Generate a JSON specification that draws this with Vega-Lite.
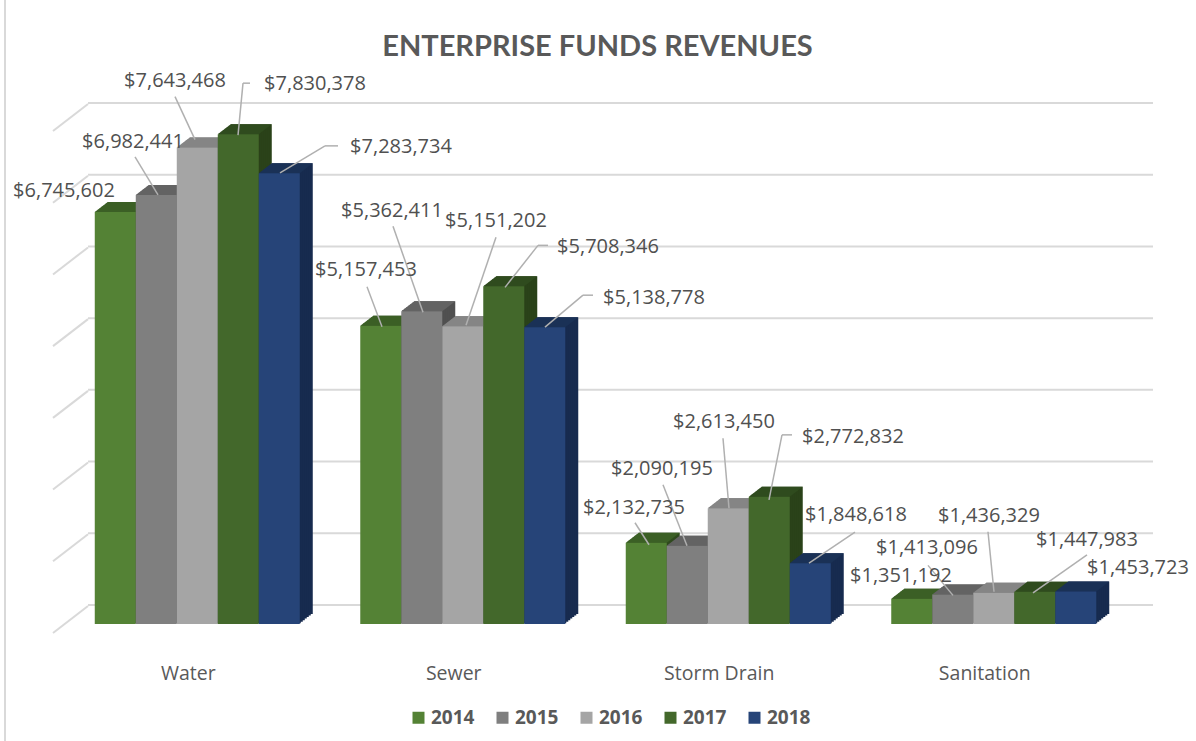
{"$schema":"https://vega.github.io/schema/vega-lite/v6.json","width":1065,"height":502,"autosize":{"type":"none"},"padding":{"left":88,"top":122,"right":43,"bottom":117},"background":"white",
"title":{"text":"ENTERPRISE FUNDS REVENUES","anchor":"middle","dx":-23,"offset":-63,"font":"Lato","fontSize":29,"fontWeight":"bold","color":"#595959"},
"config":{"view":{"stroke":null},"text":{"font":"Open Sans","fontSize":20,"color":"#505050","align":"center","baseline":"middle"},"rule":{"stroke":"#b0b0b0","strokeWidth":1.5}},
"data":{"values":[
{"category":"Water","year":2014,"value":6745602},{"category":"Water","year":2015,"value":6982441},{"category":"Water","year":2016,"value":7643468},{"category":"Water","year":2017,"value":7830378},{"category":"Water","year":2018,"value":7283734},
{"category":"Sewer","year":2014,"value":5157453},{"category":"Sewer","year":2015,"value":5362411},{"category":"Sewer","year":2016,"value":5151202},{"category":"Sewer","year":2017,"value":5708346},{"category":"Sewer","year":2018,"value":5138778},
{"category":"Storm Drain","year":2014,"value":2132735},{"category":"Storm Drain","year":2015,"value":2090195},{"category":"Storm Drain","year":2016,"value":2613450},{"category":"Storm Drain","year":2017,"value":2772832},{"category":"Storm Drain","year":2018,"value":1848618},
{"category":"Sanitation","year":2014,"value":1351192},{"category":"Sanitation","year":2015,"value":1413096},{"category":"Sanitation","year":2016,"value":1436329},{"category":"Sanitation","year":2017,"value":1447983},{"category":"Sanitation","year":2018,"value":1453723}]},
"resolve":{"scale":{"color":"independent","xOffset":"independent"}},
"encoding":{"x":{"field":"category","type":"nominal"},"y":{"field":"value","type":"quantitative"}},
"layer":[
{"data":{"values":[{"v":1000000},{"v":2000000},{"v":3000000},{"v":4000000},{"v":5000000},{"v":6000000},{"v":7000000},{"v":8000000}]},
 "layer":[
 {"mark":{"type":"rule","stroke":"#d9d9d9","strokeWidth":2,"yOffset":-19},"encoding":{"x":null,"y":{"field":"v","type":"quantitative","scale":{"domain":[1000000,8000000],"zero":false,"nice":false},"axis":null}}},
 {"mark":{"type":"rule","stroke":"#d9d9d9","strokeWidth":2,"xOffset":-144.25,"x2Offset":-109.25,"yOffset":9,"y2Offset":-18},"encoding":{"x":{"datum":"Water","type":"nominal","scale":{"domain":["Water","Sewer","Storm Drain","Sanitation"],"range":[-23.5,1038.5],"paddingInner":0.2279,"paddingOuter":0.114},"axis":{"title":null,"domain":false,"ticks":false,"labelAngle":0,"labelOffset":-9,"labelPadding":40,"labelFont":"Open Sans","labelFontSize":19.5,"labelColor":"#595959","grid":false}},"x2":{"datum":"Water"},"y":{"field":"v","type":"quantitative"},"y2":{"field":"v"}}}
 ]},
{"mark":{"type":"rule","stroke":"#d9d9d9","strokeWidth":2,"xOffset":-192.25,"yOffset":-122,"y2Offset":117},"encoding":{"x":{"datum":"Water","type":"nominal"},"y":{"datum":8000000,"type":"quantitative"},"y2":{"datum":1000000}}},
{"mark":{"type":"bar","yOffset":-10,"y2Offset":-10},"encoding":{"xOffset":{"field":"year","type":"nominal","scale":{"range":[13,218]}},"y2":{"datum":1000000},"color":{"field":"year","type":"nominal","legend":null,"scale":{"domain":[2014,2015,2016,2017,2018],"range":["#2f4a1e","#505050","#6e6e6e","#2a4219","#172b4f"]}}}},
{"mark":{"type":"bar","yOffset":-8.5,"y2Offset":-8.5},"encoding":{"xOffset":{"field":"year","type":"nominal","scale":{"range":[11,216]}},"y2":{"datum":1000000},"color":{"field":"year","type":"nominal","legend":null,"scale":{"domain":[2014,2015,2016,2017,2018],"range":["#2f4a1e","#505050","#6e6e6e","#2a4219","#172b4f"]}}}},
{"mark":{"type":"bar","yOffset":-7,"y2Offset":-7},"encoding":{"xOffset":{"field":"year","type":"nominal","scale":{"range":[9,214]}},"y2":{"datum":1000000},"color":{"field":"year","type":"nominal","legend":null,"scale":{"domain":[2014,2015,2016,2017,2018],"range":["#2f4a1e","#505050","#6e6e6e","#2a4219","#172b4f"]}}}},
{"mark":{"type":"bar","yOffset":-5.4,"y2Offset":-5.4},"encoding":{"xOffset":{"field":"year","type":"nominal","scale":{"range":[7,212]}},"y2":{"datum":1000000},"color":{"field":"year","type":"nominal","legend":null,"scale":{"domain":[2014,2015,2016,2017,2018],"range":["#2f4a1e","#505050","#6e6e6e","#2a4219","#172b4f"]}}}},
{"mark":{"type":"bar","yOffset":-3.8,"y2Offset":-3.8},"encoding":{"xOffset":{"field":"year","type":"nominal","scale":{"range":[5,210]}},"y2":{"datum":1000000},"color":{"field":"year","type":"nominal","legend":null,"scale":{"domain":[2014,2015,2016,2017,2018],"range":["#2f4a1e","#505050","#6e6e6e","#2a4219","#172b4f"]}}}},
{"mark":{"type":"bar","yOffset":-2.3,"y2Offset":-2.3},"encoding":{"xOffset":{"field":"year","type":"nominal","scale":{"range":[3,208]}},"y2":{"datum":1000000},"color":{"field":"year","type":"nominal","legend":null,"scale":{"domain":[2014,2015,2016,2017,2018],"range":["#2f4a1e","#505050","#6e6e6e","#2a4219","#172b4f"]}}}},
{"mark":{"type":"bar","yOffset":-0.8,"y2Offset":-0.8},"encoding":{"xOffset":{"field":"year","type":"nominal","scale":{"range":[1,206]}},"y2":{"datum":1000000},"color":{"field":"year","type":"nominal","legend":null,"scale":{"domain":[2014,2015,2016,2017,2018],"range":["#2f4a1e","#505050","#6e6e6e","#2a4219","#172b4f"]}}}},
{"mark":{"type":"point","filled":true,"opacity":1,"size":4,"shape":"M-20.5,0 L20.5,0 L33.5,-10 L-7.5,-10 Z"},"encoding":{"xOffset":{"field":"year","type":"nominal","scale":{"range":[0,205]}},
 "color":{"field":"year","type":"nominal","legend":null,"scale":{"domain":[2014,2015,2016,2017,2018],"range":["#3b5f25","#636363","#858585","#2f4b1e","#1a3156"]}}}},
{"mark":{"type":"bar"},"encoding":{"xOffset":{"field":"year","type":"nominal","scale":{"range":[0,205]}},"y2":{"datum":1000000},
 "color":{"field":"year","type":"nominal","scale":{"domain":[2014,2015,2016,2017,2018],"range":["#548235","#7f7f7f","#a5a5a5","#43682b","#264478"]},"legend":{"orient":"none","legendX":321,"legendY":586,"direction":"horizontal","columns":5,"title":null,"symbolType":"square","symbolSize":144,"symbolStrokeWidth":0,"labelFont":"Open Sans","labelFontSize":19,"labelFontWeight":"bold","labelColor":"#595959","columnPadding":18,"labelOffset":3}}}},
{"encoding":{"x2":{"field":"category"},"y2":{"field":"value"}},
 "layer":[
 {"transform":[{"filter":"datum.category=='Water'&&datum.year==2015"}],"mark":{"type":"rule","xOffset":-62.25,"x2Offset":-39.25,"yOffset":-38,"y2Offset":0}},
 {"transform":[{"filter":"datum.category=='Water'&&datum.year==2016"}],"mark":{"type":"rule","xOffset":-22.25,"x2Offset":-2.25,"yOffset":-51,"y2Offset":-8}},
 {"transform":[{"filter":"datum.category=='Water'&&datum.year==2017"}],"mark":{"type":"rule","xOffset":45.75,"x2Offset":40.75,"yOffset":-51,"y2Offset":1}},
 {"transform":[{"filter":"datum.category=='Water'&&datum.year==2017"}],"mark":{"type":"rule","xOffset":52.75,"x2Offset":45.75,"yOffset":-51,"y2Offset":-51}},
 {"transform":[{"filter":"datum.category=='Water'&&datum.year==2018"}],"mark":{"type":"rule","xOffset":127.75,"x2Offset":82.75,"yOffset":-27.5,"y2Offset":-0.5}},
 {"transform":[{"filter":"datum.category=='Water'&&datum.year==2018"}],"mark":{"type":"rule","xOffset":140.75,"x2Offset":127.75,"yOffset":-27.5,"y2Offset":-27.5}},
 {"transform":[{"filter":"datum.category=='Sewer'&&datum.year==2014"}],"mark":{"type":"rule","xOffset":-95.75,"x2Offset":-80.75,"yOffset":-39,"y2Offset":1}},
 {"transform":[{"filter":"datum.category=='Sewer'&&datum.year==2015"}],"mark":{"type":"rule","xOffset":-69.75,"x2Offset":-39.75,"yOffset":-85,"y2Offset":1}},
 {"transform":[{"filter":"datum.category=='Sewer'&&datum.year==2016"}],"mark":{"type":"rule","xOffset":33.25,"x2Offset":3.25,"yOffset":-89,"y2Offset":-1}},
 {"transform":[{"filter":"datum.category=='Sewer'&&datum.year==2017"}],"mark":{"type":"rule","xOffset":75.25,"x2Offset":42.25,"yOffset":-41,"y2Offset":1}},
 {"transform":[{"filter":"datum.category=='Sewer'&&datum.year==2017"}],"mark":{"type":"rule","xOffset":85.25,"x2Offset":75.25,"yOffset":-41,"y2Offset":-41}},
 {"transform":[{"filter":"datum.category=='Sewer'&&datum.year==2018"}],"mark":{"type":"rule","xOffset":120.25,"x2Offset":82.25,"yOffset":-32,"y2Offset":0}},
 {"transform":[{"filter":"datum.category=='Sewer'&&datum.year==2018"}],"mark":{"type":"rule","xOffset":130.25,"x2Offset":120.25,"yOffset":-32,"y2Offset":-32}},
 {"transform":[{"filter":"datum.category=='Storm Drain'&&datum.year==2014"}],"mark":{"type":"rule","xOffset":-93.25,"x2Offset":-79.25,"yOffset":-20,"y2Offset":2}},
 {"transform":[{"filter":"datum.category=='Storm Drain'&&datum.year==2015"}],"mark":{"type":"rule","xOffset":-65.25,"x2Offset":-41.25,"yOffset":-61,"y2Offset":0}},
 {"transform":[{"filter":"datum.category=='Storm Drain'&&datum.year==2016"}],"mark":{"type":"rule","xOffset":-5.25,"x2Offset":0.75,"yOffset":-70,"y2Offset":0}},
 {"transform":[{"filter":"datum.category=='Storm Drain'&&datum.year==2017"}],"mark":{"type":"rule","xOffset":53.75,"x2Offset":40.75,"yOffset":-62,"y2Offset":3}},
 {"transform":[{"filter":"datum.category=='Storm Drain'&&datum.year==2017"}],"mark":{"type":"rule","xOffset":63.75,"x2Offset":53.75,"yOffset":-62,"y2Offset":-62}},
 {"transform":[{"filter":"datum.category=='Storm Drain'&&datum.year==2018"}],"mark":{"type":"rule","xOffset":126.75,"x2Offset":80.75,"yOffset":-31,"y2Offset":0}},
 {"transform":[{"filter":"datum.category=='Sanitation'&&datum.year==2015"}],"mark":{"type":"rule","xOffset":-65.75,"x2Offset":-40.75,"yOffset":-29,"y2Offset":1}},
 {"transform":[{"filter":"datum.category=='Sanitation'&&datum.year==2016"}],"mark":{"type":"rule","xOffset":-5.75,"x2Offset":0.25,"yOffset":-61,"y2Offset":-1}},
 {"transform":[{"filter":"datum.category=='Sanitation'&&datum.year==2017"}],"mark":{"type":"rule","xOffset":93.25,"x2Offset":39.25,"yOffset":-37,"y2Offset":1}}
 ]},
{"encoding":{"text":{"field":"value","type":"quantitative","format":"$,.0f"}},
 "layer":[
 {"transform":[{"filter":"datum.category=='Water'&&datum.year==2014"}],"mark":{"type":"text","dx":-133.25,"dy":-21}},
 {"transform":[{"filter":"datum.category=='Water'&&datum.year==2015"}],"mark":{"type":"text","dx":-64.25,"dy":-53}},
 {"transform":[{"filter":"datum.category=='Water'&&datum.year==2016"}],"mark":{"type":"text","dx":-22.25,"dy":-67}},
 {"transform":[{"filter":"datum.category=='Water'&&datum.year==2017"}],"mark":{"type":"text","dx":117.75,"dy":-50}},
 {"transform":[{"filter":"datum.category=='Water'&&datum.year==2018"}],"mark":{"type":"text","dx":203.75,"dy":-26.5}},
 {"transform":[{"filter":"datum.category=='Sewer'&&datum.year==2014"}],"mark":{"type":"text","dx":-96.75,"dy":-56}},
 {"transform":[{"filter":"datum.category=='Sewer'&&datum.year==2015"}],"mark":{"type":"text","dx":-70.75,"dy":-100}},
 {"transform":[{"filter":"datum.category=='Sewer'&&datum.year==2016"}],"mark":{"type":"text","dx":33.25,"dy":-105}},
 {"transform":[{"filter":"datum.category=='Sewer'&&datum.year==2017"}],"mark":{"type":"text","dx":145.25,"dy":-39}},
 {"transform":[{"filter":"datum.category=='Sewer'&&datum.year==2018"}],"mark":{"type":"text","dx":191.25,"dy":-29}},
 {"transform":[{"filter":"datum.category=='Storm Drain'&&datum.year==2014"}],"mark":{"type":"text","dx":-94.25,"dy":-35}},
 {"transform":[{"filter":"datum.category=='Storm Drain'&&datum.year==2015"}],"mark":{"type":"text","dx":-66.25,"dy":-77}},
 {"transform":[{"filter":"datum.category=='Storm Drain'&&datum.year==2016"}],"mark":{"type":"text","dx":-4.25,"dy":-86}},
 {"transform":[{"filter":"datum.category=='Storm Drain'&&datum.year==2017"}],"mark":{"type":"text","dx":124.75,"dy":-60}},
 {"transform":[{"filter":"datum.category=='Storm Drain'&&datum.year==2018"}],"mark":{"type":"text","dx":127.75,"dy":-48}},
 {"transform":[{"filter":"datum.category=='Sanitation'&&datum.year==2014"}],"mark":{"type":"text","dx":-92.75,"dy":-23}},
 {"transform":[{"filter":"datum.category=='Sanitation'&&datum.year==2015"}],"mark":{"type":"text","dx":-66.75,"dy":-46}},
 {"transform":[{"filter":"datum.category=='Sanitation'&&datum.year==2016"}],"mark":{"type":"text","dx":-4.75,"dy":-77}},
 {"transform":[{"filter":"datum.category=='Sanitation'&&datum.year==2017"}],"mark":{"type":"text","dx":93.25,"dy":-52}},
 {"transform":[{"filter":"datum.category=='Sanitation'&&datum.year==2018"}],"mark":{"type":"text","dx":144.25,"dy":-23}}
 ]}
]}
